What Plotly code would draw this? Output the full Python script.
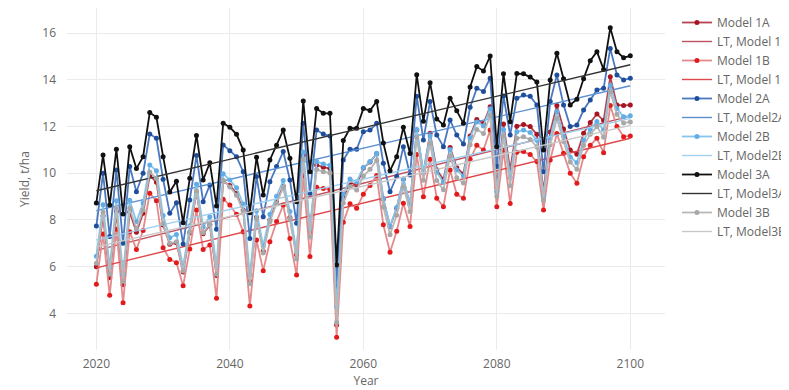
import plotly.graph_objects as go

years = list(range(2020, 2101))

model_1a = [6.0, 8.18, 5.53, 8.36, 5.22, 8.34, 7.47, 8.29, 9.9, 9.62,
            7.78, 6.96, 7.02, 5.77, 7.45, 9.2, 7.41, 7.78, 5.62, 9.66,
            9.48, 9.13, 8.43, 5.36, 8.12, 6.66, 8.0, 8.78, 9.46, 8.11,
            6.51, 10.77, 7.49, 10.36, 10.26, 10.2, 3.5, 8.94, 9.61, 9.49,
            10.23, 10.48, 10.84, 8.9, 7.71, 8.5, 9.74, 8.65, 11.85, 10.02,
            11.71, 10.15, 9.73, 11.1, 10.24, 9.97, 11.6, 12.3, 12.13, 12.85,
            9.4, 12.11, 10.12, 12.01, 12.09, 12.0, 11.67, 9.22, 11.77, 12.9,
            11.9, 11.0, 10.82, 11.71, 12.17, 12.54, 12.26, 14.13, 12.93, 12.9, 12.93]

model_1b = [5.25, 7.4, 4.77, 7.6, 4.45, 7.5, 6.73, 7.55, 9.14, 8.82,
            6.81, 6.31, 6.17, 5.18, 6.76, 8.43, 6.74, 6.93, 4.65, 8.89,
            8.64, 8.24, 7.5, 4.32, 7.14, 5.83, 7.07, 7.93, 8.64, 7.21,
            5.64, 9.9, 6.43, 9.4, 9.35, 9.3, 2.98, 7.9, 8.7, 8.5,
            9.1, 9.48, 9.9, 7.79, 6.62, 7.52, 8.72, 7.72, 10.8, 9.0,
            10.6, 8.93, 8.57, 10.14, 9.1, 8.93, 10.6, 11.2, 11.0, 11.85,
            8.57, 11.0, 8.71, 10.9, 10.93, 10.8, 10.5, 8.43, 10.57, 11.7,
            10.86, 10.0, 9.57, 10.71, 11.2, 11.5, 10.88, 12.9, 12.0, 11.57, 11.6]

model_2a = [7.74, 10.0, 7.29, 10.14, 7.0, 10.29, 9.21, 10.0, 11.68, 11.5,
            9.74, 8.29, 8.74, 6.97, 8.86, 10.76, 8.78, 9.5, 7.6, 11.21,
            10.97, 10.71, 10.07, 7.21, 9.86, 8.14, 9.64, 10.29, 10.93, 9.71,
            7.86, 12.14, 9.14, 11.85, 11.68, 11.6, 5.14, 10.57, 11.03, 11.03,
            11.78, 11.85, 12.14, 10.43, 9.21, 9.86, 11.14, 9.93, 13.3, 11.43,
            13.07, 11.64, 11.14, 12.28, 11.64, 11.25, 12.83, 13.64, 13.5, 14.07,
            10.29, 13.31, 11.64, 13.21, 13.35, 13.3, 12.93, 10.07, 13.07, 14.21,
            12.93, 12.0, 12.07, 12.71, 13.14, 13.57, 13.64, 15.35, 14.21, 14.0, 14.07]

model_2b = [6.45, 8.65, 5.98, 8.82, 5.67, 8.84, 7.92, 8.73, 10.36, 10.11,
            8.19, 7.24, 7.38, 6.02, 7.75, 9.53, 7.7, 8.14, 6.04, 9.98,
            9.71, 9.38, 8.68, 5.65, 8.39, 6.89, 8.25, 9.02, 9.69, 8.36,
            6.64, 10.91, 7.65, 10.5, 10.4, 10.34, 4.28, 9.1, 9.75, 9.64,
            10.25, 10.5, 10.86, 8.93, 7.73, 8.53, 9.76, 8.67, 11.88, 10.04,
            11.61, 10.04, 9.62, 11.02, 10.14, 9.88, 11.51, 12.2, 12.03, 12.76,
            9.22, 11.88, 9.82, 11.78, 11.85, 11.75, 11.42, 9.05, 11.52, 12.65,
            11.58, 10.7, 10.45, 11.41, 11.88, 12.22, 11.85, 13.76, 12.77, 12.42, 12.46]

model_3a = [8.73, 10.78, 8.64, 11.03, 8.26, 11.14, 10.2, 10.71, 12.6, 12.4,
            10.71, 9.2, 9.66, 7.88, 9.79, 11.62, 9.71, 10.45, 8.6, 12.14,
            11.97, 11.67, 11.0, 8.31, 10.69, 9.07, 10.57, 11.2, 11.85, 10.64,
            8.78, 13.1, 10.07, 12.77, 12.57, 12.57, 6.07, 11.4, 11.93, 11.93,
            12.77, 12.69, 13.08, 11.3, 10.11, 10.71, 11.97, 10.85, 14.22, 12.23,
            13.88, 12.33, 12.07, 13.21, 12.68, 12.14, 13.7, 14.57, 14.38, 15.02,
            11.14, 14.26, 12.21, 14.27, 14.26, 14.12, 13.91, 11.0, 14.0, 15.14,
            14.05, 12.93, 13.17, 14.05, 14.82, 15.21, 14.45, 16.23, 15.21, 14.95, 15.03]

model_3b = [6.15, 8.34, 5.68, 8.51, 5.37, 8.5, 7.62, 8.43, 10.05, 9.78,
            7.84, 7.0, 7.07, 5.81, 7.5, 9.25, 7.45, 7.83, 5.68, 9.7,
            9.41, 9.06, 8.35, 5.27, 8.04, 6.59, 7.92, 8.71, 9.4, 8.04,
            6.33, 10.59, 7.27, 10.16, 10.07, 10.01, 3.62, 8.73, 9.42, 9.28,
            9.88, 10.17, 10.55, 8.56, 7.37, 8.2, 9.42, 8.36, 11.53, 9.7,
            11.29, 9.69, 9.29, 10.74, 9.81, 9.58, 11.22, 11.88, 11.7, 12.47,
            9.02, 11.6, 9.47, 11.5, 11.56, 11.45, 11.13, 8.86, 11.22, 12.35,
            11.36, 10.48, 10.17, 11.19, 11.67, 12.0, 11.54, 13.49, 12.53, 12.15, 12.2]

trend_years = [2020, 2100]
lt_1a = [6.7, 12.45]
lt_1b = [5.95, 11.5]
lt_2a = [8.4, 13.75]
lt_2b = [7.15, 12.35]
lt_3a = [9.25, 14.65]
lt_3b = [6.85, 12.05]

series = [
    ("Model 1A", model_1a, "#b5434f", "#a8141f", "LT, Model 1A", lt_1a, "#c0505e"),
    ("Model 1B", model_1b, "#e58a8c", "#e31a1c", "LT, Model 1B", lt_1b, "#e0474a"),
    ("Model 2A", model_2a, "#4a78c0", "#1f4e9c", "LT, Model2A", lt_2a, "#5b8fd0"),
    ("Model 2B", model_2b, "#86c6ea", "#62ade6", "LT, Model2B", lt_2b, "#9fd0f0"),
    ("Model 3A", model_3a, "#111111", "#111111", "LT, Model3A", lt_3a, "#333333"),
    ("Model 3B", model_3b, "#b8b8b8", "#a8a8a8", "LT, Model3B", lt_3b, "#c8c8c8"),
]

fig = go.Figure()
for name, vals, lcol, mcol, ltname, ltvals, ltcol in series:
    fig.add_trace(go.Scatter(
        x=years, y=vals, name=name, mode="lines+markers",
        line=dict(color=lcol, width=1.8),
        marker=dict(color=mcol, size=5),
    ))
    fig.add_trace(go.Scatter(
        x=trend_years, y=ltvals, name=ltname, mode="lines",
        line=dict(color=ltcol, width=1.4),
    ))

axis_font = dict(family="Open Sans, sans-serif", size=12, color="#666666")
fig.update_layout(
    width=781, height=382,
    margin=dict(l=59, r=124, t=0, b=40, autoexpand=False),
    paper_bgcolor="white", plot_bgcolor="white",
    font=dict(family="Open Sans, sans-serif", size=12, color="#666666"),
    showlegend=True,
    legend=dict(font=dict(size=12, color="#666666"), x=1.02, y=1,
                bgcolor="rgba(0,0,0,0)"),
    xaxis=dict(title=dict(text="Year", font=axis_font, standoff=2),
               range=[2015.6, 2105.2], tickvals=[2020, 2040, 2060, 2080, 2100],
               showgrid=True, gridcolor="#ebebeb", zeroline=False,
               showline=False, tickfont=axis_font, automargin=False,
               ticklabelstandoff=5),
    yaxis=dict(title=dict(text="Yield, t/ha", font=axis_font, standoff=10),
               range=[2.43, 17.08], tickvals=[4, 6, 8, 10, 12, 14, 16],
               showgrid=True, gridcolor="#ebebeb", zeroline=False,
               showline=False, tickfont=axis_font, automargin=False,
               ticklabelstandoff=10),
)

fig.write_html("out.html")
